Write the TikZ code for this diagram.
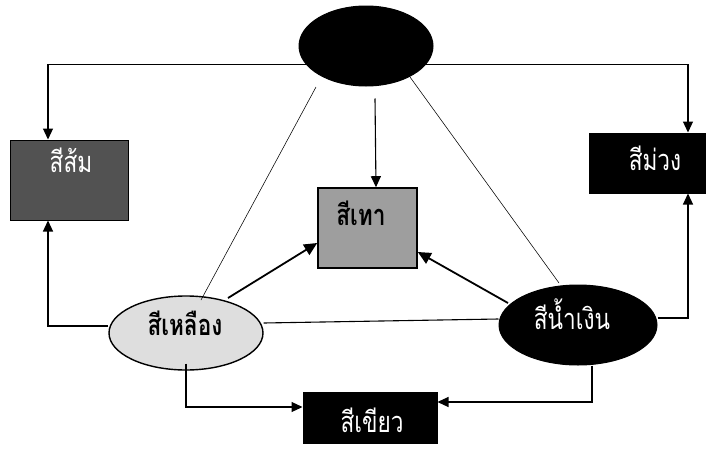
\documentclass[tikz,border=0pt]{standalone}
\usepackage{fontspec}
\newfontfamily\thai[Script=Thai,FakeStretch=0.78]{Loma}
\usetikzlibrary{shapes.geometric,arrows.meta}
\begin{document}
\begin{tikzpicture}[x=1pt,y=-1pt,
  boxshape/.style={rectangle,draw=black,line width=1pt,inner sep=0pt},
  ellshape/.style={ellipse,draw=black,line width=1pt,inner sep=0pt},
  lbl/.style={font=\thai\fontsize{29}{29}\selectfont,inner sep=0pt},
  lblb/.style={font=\thai\bfseries\fontsize{29}{29}\selectfont,inner sep=0pt},
  conn/.style={line width=1.1pt,-{Triangle[length=11pt,width=10pt]}},
  plain/.style={line width=1.1pt},
  thin/.style={line width=0.55pt},
  fatarr/.style={line width=1.8pt,-{Triangle[length=13pt,width=12pt]}}]
\useasboundingbox[fill=white] (0,0) rectangle (721,453);
% shapes
\node[ellshape,fill=black,minimum width=134pt,minimum height=80pt] (top) at (366,46) {};
\node[boxshape,fill=black!68,minimum width=118pt,minimum height=80pt] (orange) at (69,180) {};
\node[boxshape,fill=black,minimum width=116pt,minimum height=60pt] (purple) at (647,163) {};
\node[boxshape,fill=black!38,line width=1.6pt,minimum width=99pt,minimum height=80pt] (gray) at (367.5,228) {};
\node[ellshape,fill=black!13,line width=1.4pt,minimum width=154pt,minimum height=74pt] (yellow) at (186,333) {};
\node[ellshape,fill=black,minimum width=158pt,minimum height=80pt] (blue) at (578,325) {};
\node[boxshape,fill=black,minimum width=134pt,minimum height=51pt] (green) at (370,417.5) {};
% labels
\node[lbl,text=white] (orangeT) at (71,160) {สีส้ม};
\node[lbl,text=white] (purpleT) at (655,158) {สีม่วง};
\node[lblb,text=black] (grayT) at (361,213) {สีเทา};
\node[lblb,text=black] (yellowT) at (185,323) {สีเหลือง};
\node[lbl,text=white] (blueT) at (572,314) {สีน้ำเงิน};
\node[lbl,text=white] (greenT) at (372,420) {สีเขียว};
% connectors
\draw[conn] (top.197) -| ([xshift=-21pt]orange.north);
\draw[conn] (top.-17) -| ([xshift=41pt]purple.north);
\draw[conn] ([xshift=9pt,yshift=-12pt]top.south) -- ([xshift=8.5pt]gray.north);
\draw[thin] ([xshift=-50pt,yshift=-41pt]top.center) -- ([xshift=15pt,yshift=33pt]yellow.center);
\draw[thin] ([xshift=44pt,yshift=-31pt]top.center) -- ([xshift=-19pt,yshift=42pt]blue.center);
\draw[fatarr] ([xshift=42pt,yshift=35pt]yellow.center) -- ([yshift=-15pt]gray.west);
\draw[fatarr] ([xshift=-70pt,yshift=22pt]blue.center) -- ([yshift=-24pt]gray.east);
\draw[conn] ([yshift=7pt]yellow.west) -| ([xshift=-21pt]orange.south);
\draw[plain] ([yshift=10pt]yellow.east) -- ([yshift=6pt]blue.west);
\draw[conn] ([yshift=7pt]blue.east) -| ([xshift=41pt]purple.south);
\draw[conn] ([yshift=7pt]yellow.south) |- ([yshift=10.5pt]green.west);
\draw[conn] ([xshift=14pt]blue.south) |- ([yshift=15.5pt]green.east);
\end{tikzpicture}
\end{document}
